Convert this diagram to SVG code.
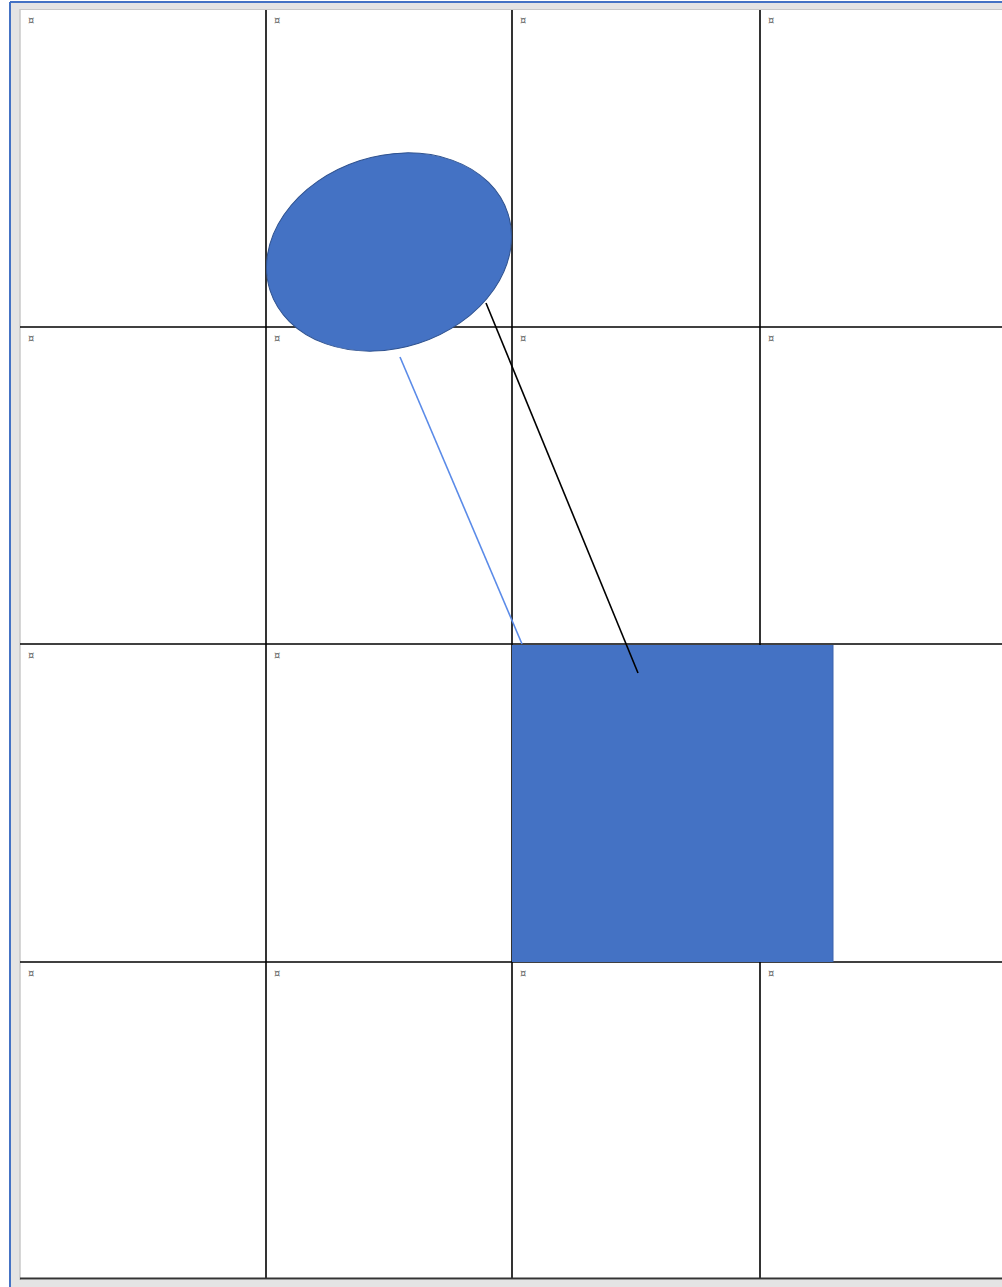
<svg xmlns="http://www.w3.org/2000/svg" width="1002" height="1287" viewBox="0 0 1002 1287">
<style>
.g{stroke:#000;stroke-width:1.6;fill:none}
.m{font-family:"DejaVu Sans",sans-serif;font-size:10px;fill:#666}
</style>
<rect x="0" y="0" width="1002" height="1287" fill="#fff"/>
<g id="frame">
<rect x="10" y="2" width="992" height="1285" fill="#e4e4e4"/>
<line x1="10" y1="2" x2="10" y2="1287" stroke="#4472C4" stroke-width="2"/>
<line x1="10" y1="2" x2="1002" y2="2" stroke="#4472C4" stroke-width="2"/>
<rect x="20" y="9" width="982" height="1271" fill="#fff"/>
<line x1="20" y1="9" x2="20" y2="1280" stroke="#c8c8c8" stroke-width="1.5"/>
<line x1="20" y1="9.5" x2="1002" y2="9.5" stroke="#c8c8c8" stroke-width="1.2"/>
</g>
<g id="grid">
<line class="g" x1="266" y1="10" x2="266" y2="1278"/>
<line class="g" x1="512" y1="10" x2="512" y2="1278"/>
<line class="g" x1="760" y1="10" x2="760" y2="1278"/>
<line class="g" x1="20" y1="327" x2="1002" y2="327"/>
<line class="g" x1="20" y1="644" x2="1002" y2="644"/>
<line class="g" x1="20" y1="962" x2="1002" y2="962"/>
<line x1="20" y1="1278.5" x2="1002" y2="1278.5" stroke="#333" stroke-width="2"/>
</g>
<g id="marks">
<text class="m" x="28" y="24">¤</text><text class="m" x="274" y="24">¤</text><text class="m" x="520" y="24">¤</text><text class="m" x="768" y="24">¤</text>
<text class="m" x="28" y="342">¤</text><text class="m" x="274" y="342">¤</text><text class="m" x="520" y="342">¤</text><text class="m" x="768" y="342">¤</text>
<text class="m" x="28" y="659">¤</text><text class="m" x="274" y="659">¤</text>
<text class="m" x="28" y="977">¤</text><text class="m" x="274" y="977">¤</text><text class="m" x="520" y="977">¤</text><text class="m" x="768" y="977">¤</text>
</g>
<g id="rect-node">
<rect x="512" y="645" width="321" height="317" fill="#4472C4"/>
<line x1="833" y1="645" x2="833" y2="962" stroke="#3a63ad" stroke-width="1"/>
</g>
<g id="ellipse-node">
<ellipse cx="389" cy="252" rx="125" ry="96" transform="rotate(-18 389 252)" fill="#4472C4" stroke="#2F528F" stroke-width="1"/>
</g>
<g id="connectors">
<line x1="400" y1="357" x2="522" y2="644" stroke="#5B8BE8" stroke-width="1.6"/>
<line x1="486" y1="303" x2="638" y2="673" stroke="#000" stroke-width="1.6"/>
</g>
</svg>
